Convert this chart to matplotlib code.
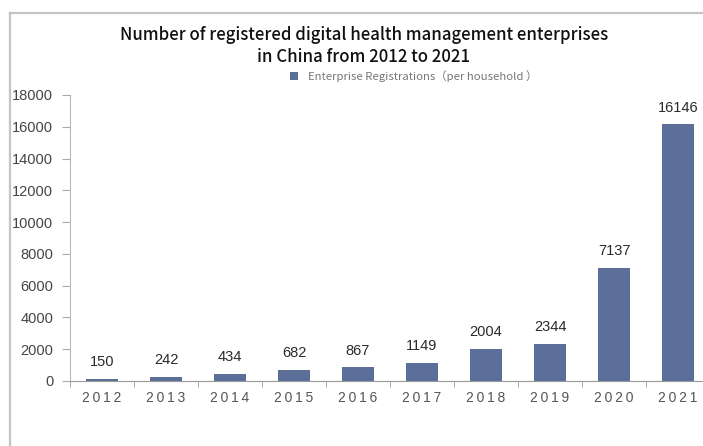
import matplotlib.pyplot as plt
import numpy as np

years = ['2012', '2013', '2014', '2015', '2016', '2017', '2018', '2019', '2020', '2021']
registrations = [150, 242, 434, 682, 867, 1149, 2004, 2344, 7137, 16146]
y_ticks = [0, 2000, 4000, 6000, 8000, 10000, 12000, 14000, 16000, 18000]

title = 'Number of registered digital health management enterprises\nin China from 2012 to 2021'
legend_label = 'Enterprise Registrations（per household ）'

bar_color = '#5b6f99'

fig = plt.figure(figsize=(7.03, 4.46), dpi=100)
W, H = 703, 446

# screenshot frame (grey top and left edge)
fig.add_artist(plt.Line2D([10 / W, 1], [1 - 13 / H, 1 - 13 / H], color='#c4c4c4', lw=1.6))
fig.add_artist(plt.Line2D([10 / W, 10 / W], [0, 1 - 13 / H], color='#c4c4c4', lw=1.6))

ax = fig.add_axes([70 / W, 65 / H, 640 / W, 286 / H])
x = np.arange(len(years))
bars = ax.bar(x, registrations, 0.5, color=bar_color, label=legend_label)

for xi, v in zip(x, registrations):
    ax.annotate(str(v), (xi, v), xytext=(0, 7), textcoords='offset points',
                ha='center', va='bottom', fontsize=10.5, color='#2a2a2a',
                family='Liberation Sans')

ax.set_xlim(-0.5, len(years) - 0.5)
ax.set_ylim(0, 18000)
ax.set_yticks(y_ticks)
ax.set_yticklabels([str(t) for t in y_ticks], fontsize=10.5, color='#444444',
                   family='Liberation Sans')

# category labels, spread out a little like the original
ax.set_xticks(x)
ax.set_xticklabels(['\u2009'.join(y) for y in years], fontsize=10, color='#555555',
                   family='Liberation Sans')
ax.tick_params(axis='x', length=0, pad=7)
ax.set_xticks(np.arange(len(years) + 1) - 0.5, minor=True)
ax.tick_params(axis='x', which='minor', length=4, color='#999999', direction='out')
ax.tick_params(axis='y', length=6, color='#aaaaaa', direction='out', pad=6)

for s in ['top', 'right']:
    ax.spines[s].set_visible(False)
ax.spines['left'].set_color('#bbbbbb')
ax.spines['bottom'].set_color('#999999')

fig.text(364 / W, 1 - 46 / H, title, ha='center', va='center', fontsize=12.1,
         family=['Noto Sans CJK JP', 'DejaVu Sans'], weight='medium',
         color='#111111', linespacing=1.3)

ax.legend(loc='lower center', bbox_to_anchor=(414 / W, 1 - 88 / H), bbox_transform=fig.transFigure,
          frameon=False, prop={'family': ['Noto Sans CJK JP', 'DejaVu Sans'], 'size': 8.2},
          labelcolor='#777777', handlelength=0.7, handleheight=0.7, handletextpad=0.9,
          borderpad=0)

fig.savefig('out.png', dpi=100)
